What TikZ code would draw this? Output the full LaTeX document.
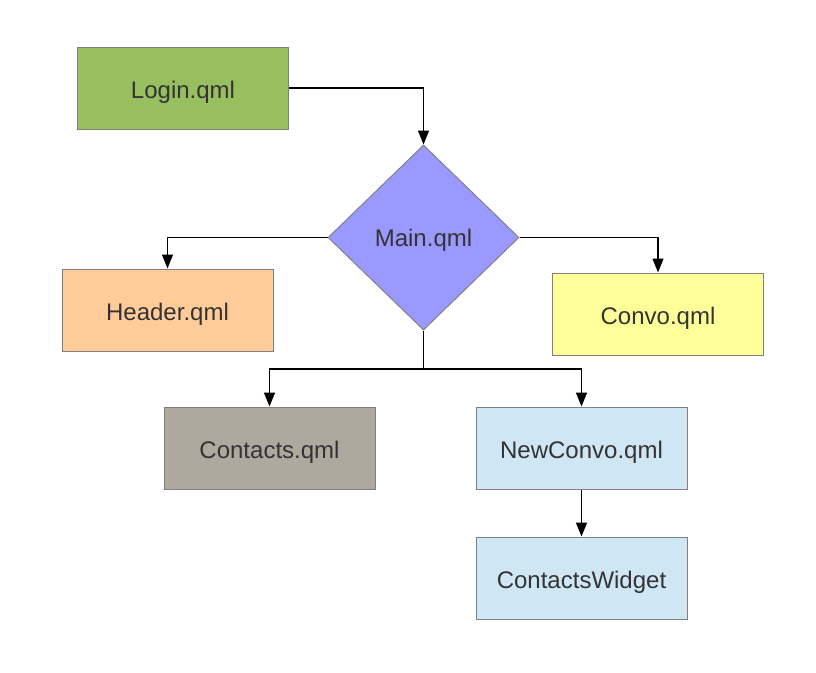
\documentclass[tikz,border=0pt]{standalone}
\usepackage{fontspec}
\setmainfont{Liberation Sans}
\usetikzlibrary{arrows.meta,shapes.geometric}
\definecolor{cgreen}{HTML}{97BF60}
\definecolor{cpurple}{HTML}{9999FF}
\definecolor{corange}{HTML}{FFCC99}
\definecolor{cyellow}{HTML}{FFFF99}
\definecolor{cgray}{HTML}{AFA89F}
\definecolor{cblue}{HTML}{CFE6F4}
\definecolor{cborder}{HTML}{808080}
\definecolor{ctext}{HTML}{333333}
\tikzset{
  box/.style={draw=cborder, line width=1pt, minimum width=211pt, minimum height=82pt, inner sep=0pt, text=ctext, font=\fontsize{24}{28}\selectfont, text height=22pt, text depth=2pt},
  conn/.style={draw=black, line width=1.3pt, -{Triangle[width=11pt,length=14pt]}},
  plain/.style={draw=black, line width=1.3pt}
}
\begin{document}
\begin{tikzpicture}[x=1pt,y=-1pt]
\useasboundingbox (0,0) rectangle (816,672);
\node[box, fill=cgreen] (login) at (183,88) {Login.qml};
\node[draw=cborder, line width=1pt, fill=cpurple, shape=diamond, minimum width=191pt, minimum height=185pt, inner sep=0pt, text=ctext, font=\fontsize{24}{28}\selectfont, text height=20pt, text depth=3pt] (main) at (423.5,237.5) {Main.qml};
\node[box, fill=corange] (header) at (167.5,310) {Header.qml};
\node[box, fill=cyellow] (convo) at (658,314) {Convo.qml};
\node[box, fill=cgray] (contacts) at (269.5,448) {Contacts.qml};
\node[box, fill=cblue] (newconvo) at (581.5,448) {NewConvo.qml};
\node[box, fill=cblue] (widget) at (581.5,578) {ContactsWidget};
\coordinate (split) at (423.5,369);
\draw[conn] (login.east) -| (main.north);
\draw[conn] (main.west) -| (header.north);
\draw[conn] (main.east) -| (convo.north);
\draw[plain] (main.south) -- (split);
\draw[conn] (split) -| (contacts.north);
\draw[conn] (split) -| (newconvo.north);
\draw[conn] (newconvo.south) -- (widget.north);
\end{tikzpicture}
\end{document}
